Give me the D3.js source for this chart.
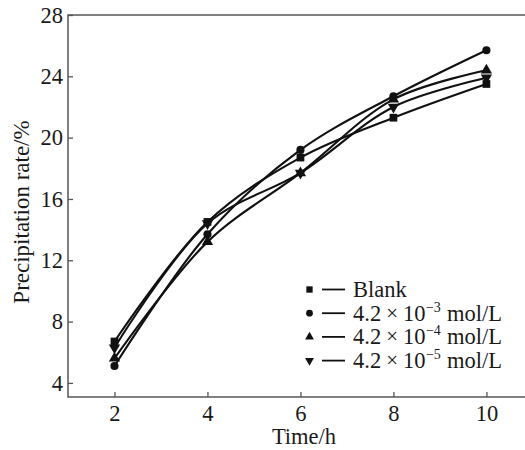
<!DOCTYPE html>
<html>
<head>
<meta charset="utf-8">
<script src="https://cdn.jsdelivr.net/npm/d3@7"></script>
<style>
  html, body { margin: 0; padding: 0; background: #fff; }
  svg { display: block; }
  text { font-family: "Liberation Serif", "Times New Roman", serif; fill: #1a1a1a; }
</style>
</head>
<body>
<svg id="chart" width="525" height="450"></svg>
<script>
// ---- data ----
const times = [2, 4, 6, 8, 10];
const blank = [6.7, 14.5, 18.7, 21.3, 23.5];
const conc3 = [5.1, 13.7, 19.2, 22.7, 25.7];
const conc4 = [5.6, 13.2, 17.7, 22.5, 24.4];
const conc5 = [6.3, 14.4, 17.7, 22.0, 23.9];
const seriesNames = ["Blank", "4.2×10", "4.2×10", "4.2×10"];
const seriesExps = ["", "−3", "−4", "−5"];
const seriesUnit = ["", "mol/L", "mol/L", "mol/L"];
const xTicks = [2, 4, 6, 8, 10];
const yTicks = [4, 8, 12, 16, 20, 24, 28];

const seriesValues = [blank, conc3, conc4, conc5];
const symbols = ["square", "circle", "triangle", "triangleDown"];

// ---- layout ----
const svg = d3.select("#chart");
const mLeft = 68, mTop = 15, mBottom = 397, mRight = 527;

const x = d3.scaleLinear().domain([1, 10.83]).range([mLeft, 525]);
const y = d3.scaleLinear().domain([3.08, 28]).range([mBottom, mTop]);

// frame
svg.append("rect")
  .attr("x", mLeft).attr("y", mTop)
  .attr("width", mRight - mLeft).attr("height", mBottom - mTop)
  .attr("fill", "none").attr("stroke", "#555").attr("stroke-width", 1.5);

// axes
const xAxis = svg.append("g")
  .attr("transform", `translate(0,${mBottom})`)
  .call(d3.axisBottom(x).tickValues(xTicks).tickSizeInner(-5).tickSizeOuter(0).tickPadding(8));
const yAxis = svg.append("g")
  .attr("transform", `translate(${mLeft},0)`)
  .call(d3.axisLeft(y).tickValues(yTicks).tickSizeInner(-5).tickSizeOuter(0).tickPadding(5));
[xAxis, yAxis].forEach(g => {
  g.select(".domain").remove();
  g.selectAll(".tick line").attr("stroke", "#555").attr("stroke-width", 1.3);
  g.selectAll(".tick text")
    .attr("font-family", "'Liberation Serif', serif")
    .attr("font-size", 22.5).attr("fill", "#1a1a1a");
});

// axis titles
svg.append("text")
  .attr("x", 304).attr("y", 444)
  .attr("text-anchor", "middle").attr("font-size", 22.5)
  .text("Time/h");
svg.append("text")
  .attr("transform", "translate(29,212) rotate(-90)")
  .attr("text-anchor", "middle").attr("font-size", 23)
  .text("Precipitation rate/%");

// symbol helper
function symbolPath(kind, size) {
  if (kind === "square") return d3.symbol(d3.symbolSquare, size)();
  if (kind === "circle") return d3.symbol(d3.symbolCircle, size)();
  return d3.symbol(d3.symbolTriangle, size)();
}
function symbolTransform(kind, cx, cy) {
  return kind === "triangleDown"
    ? `translate(${cx},${cy}) rotate(180)`
    : `translate(${cx},${cy})`;
}
const plotSizes = { square: 60, circle: 52, triangle: 55, triangleDown: 55 };
const legendSizes = { square: 40, circle: 36, triangle: 34, triangleDown: 34 };

// lines
const line = d3.line()
  .x((d, i) => x(times[i]))
  .y(d => y(d))
  .curve(d3.curveCatmullRom.alpha(0.5));

seriesValues.forEach((vals) => {
  svg.append("path")
    .datum(vals)
    .attr("d", line)
    .attr("fill", "none")
    .attr("stroke", "#111")
    .attr("stroke-width", 2.1);
});
seriesValues.forEach((vals, si) => {
  const k = symbols[si];
  svg.append("g").selectAll("path")
    .data(vals)
    .join("path")
    .attr("d", symbolPath(k, plotSizes[k]))
    .attr("transform", (d, i) => symbolTransform(k, x(times[i]), y(d)))
    .attr("fill", "#111");
});

// legend (pieces placed side by side using measured widths)
const legY0 = 289.5, legDy = 23.7;
seriesNames.forEach((name, si) => {
  const cy = legY0 + si * legDy;
  const base = cy + 7.5;
  const k = symbols[si];
  const g = svg.append("g");
  g.append("path")
    .attr("d", symbolPath(k, legendSizes[k]))
    .attr("transform", symbolTransform(k, 309.5, cy))
    .attr("fill", "#111");
  g.append("line")
    .attr("x1", 322).attr("x2", 345)
    .attr("y1", cy).attr("y2", cy)
    .attr("stroke", "#111").attr("stroke-width", 1.8);
  if (!seriesExps[si]) {
    g.append("text").attr("x", 353).attr("y", base).attr("font-size", 22.5).text(name);
    return;
  }
  const parts = name.split("×");
  const pieces = [
    { s: parts[0], fs: 22.5, dy: 0, gap: 5, ff: null },
    { s: "×", fs: 21, dy: -1, gap: 5, ff: "'Noto Sans CJK SC', sans-serif" },
    { s: parts[1], fs: 22.5, dy: 0, gap: 0.5, ff: null },
    { s: seriesExps[si], fs: 14, dy: -9, gap: 6, ff: null },
    { s: seriesUnit[si], fs: 22.5, dy: 0, gap: 0, ff: null }
  ];
  let cx = 353;
  pieces.forEach(p => {
    const t = g.append("text")
      .attr("x", cx).attr("y", base + p.dy)
      .attr("font-size", p.fs).text(p.s);
    if (p.ff) t.attr("font-family", p.ff).attr("font-weight", 300);
    cx += t.node().getComputedTextLength() + p.gap;
  });
});
</script>
</body>
</html>
